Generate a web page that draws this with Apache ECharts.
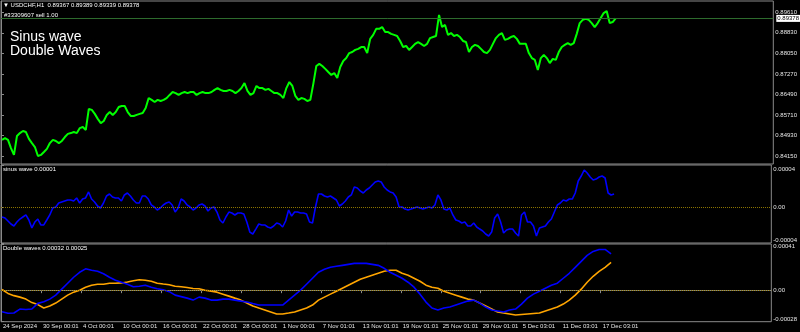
<!DOCTYPE html>
<html><head><meta charset="utf-8">
<script src="https://cdn.jsdelivr.net/npm/echarts@6/dist/echarts.min.js"></script>
<style>html,body{margin:0;padding:0;background:#000;}#c{width:800px;height:332px;}</style>
</head><body><div id="c"></div>
<script>
// ---- data ----
const timeLabels = ['24 Sep 2024','30 Sep 00:01','4 Oct 00:01','10 Oct 00:01','16 Oct 00:01','22 Oct 00:01','28 Oct 00:01','1 Nov 00:01','7 Nov 01:01','13 Nov 01:01','19 Nov 01:01','25 Nov 01:01','29 Nov 01:01','5 Dec 03:01','11 Dec 03:01','17 Dec 03:01'];
const priceTicks = [0.89610,0.88830,0.88050,0.87270,0.86490,0.85710,0.84930,0.84150];
const lastPrice = 0.89378;
const price = [
0.8476,0.8483,0.8476,0.8445,0.8419,0.8491,0.8502,0.8510,0.8506,0.8480,
0.8464,0.8449,0.8415,0.8419,0.8430,0.8442,0.8464,0.8476,0.8472,0.8464,
0.8472,0.8487,0.8499,0.8502,0.8506,0.8502,0.8521,0.8525,0.8514,0.8594,
0.8590,0.8575,0.8556,0.8540,0.8548,0.8571,0.8582,0.8571,0.8582,0.8601,
0.8605,0.8605,0.8582,0.8567,0.8567,0.8571,0.8575,0.8578,0.8597,0.8635,
0.8628,0.8620,0.8628,0.8624,0.8628,0.8635,0.8647,0.8658,0.8654,0.8647,
0.8654,0.8658,0.8654,0.8658,0.8658,0.8647,0.8654,0.8658,0.8654,0.8654,
0.8658,0.8666,0.8673,0.8666,0.8662,0.8662,0.8666,0.8662,0.8654,0.8662,
0.8673,0.8692,0.8662,0.8647,0.8654,0.8681,0.8673,0.8673,0.8666,0.8670,
0.8662,0.8654,0.8654,0.8647,0.8635,0.8673,0.8696,0.8681,0.8643,0.8628,
0.8635,0.8632,0.8624,0.8628,0.8689,0.8757,0.8765,0.8757,0.8746,0.8734,
0.8723,0.8730,0.8711,0.8753,0.8776,0.8787,0.8806,0.8810,0.8818,0.8822,
0.8829,0.8829,0.8806,0.8860,0.8875,0.8898,0.8898,0.8905,0.8886,0.8886,
0.8879,0.8875,0.8871,0.8852,0.8829,0.8833,0.8818,0.8829,0.8841,0.8848,
0.8841,0.8833,0.8841,0.8863,0.8867,0.8871,0.8951,0.8905,0.8913,0.8875,
0.8882,0.8871,0.8875,0.8867,0.8852,0.8848,0.8810,0.8829,0.8837,0.8833,
0.8822,0.8810,0.8806,0.8818,0.8841,0.8863,0.8875,0.8882,0.8856,0.8860,
0.8867,0.8871,0.8860,0.8841,0.8841,0.8841,0.8806,0.8787,0.8780,0.8742,
0.8787,0.8799,0.8787,0.8768,0.8784,0.8780,0.8810,0.8829,0.8837,0.8844,
0.8837,0.8844,0.8879,0.8920,0.8932,0.8936,0.8932,0.8920,0.8905,0.8920,
0.8939,0.8958,0.8966,0.8920,0.8924,0.8938];
// indicator values in units of 0.00001
const sinusE5 = [
-1.03,-1.13,-1.44,-1.75,-1.96,-1.55,-1.24,-1.03,-0.82,-1.34,
-2.16,-1.55,-1.24,-1.85,-1.85,-1.34,-0.82,-0.10,0,0.41,
0.52,0.62,0.72,0.72,0.62,0.93,0.41,0.82,0.93,1.55,
0.82,0.52,0.10,-0.10,0.41,1.13,1.34,1.03,0.93,0.93,
0.62,1.24,1.44,1.13,0.72,0.41,0.41,1.13,1.13,0.82,
0.21,0,-0.31,-0.10,0.21,0.41,0.52,0.21,-0.52,-0.10,
0.82,0.62,0.21,0,-0.31,-0.10,0.21,0.31,0.10,-0.41,
-0.10,0,-0.52,-1.34,-1.65,-1.03,-0.52,-0.62,-0.82,-0.62,
-0.62,-0.72,-1.55,-2.58,-2.78,-2.27,-1.75,-1.85,-1.85,-2.06,
-2.16,-1.96,-1.65,-1.75,-2.06,-1.44,-0.31,-0.93,-0.52,-0.52,
-0.62,-0.62,-0.72,-1.55,-1.65,0,1.34,1.34,1.13,1.03,
1.13,0.93,0.72,0.10,0.31,0.62,1.03,1.24,2.06,1.96,
1.65,1.44,1.75,1.96,2.27,2.58,2.68,2.58,2.06,1.75,
1.55,1.44,1.03,0,0,-0.21,-0.31,-0.21,-0.10,0,
-0.10,-0.21,-0.10,0,-0.10,0.21,1.24,0.72,-0.21,-0.31,
-0.10,-0.82,-1.34,-1.44,-1.65,-1.55,-1.96,-1.96,-1.65,-2.06,
-2.27,-2.47,-2.78,-2.99,-2.58,-1.13,-0.72,-1.55,-2.68,-2.37,
-2.27,-2.27,-2.68,-2.99,-0.82,-0.52,-1.55,-1.55,-1.96,-2.99,
-2.16,-2.06,-1.96,-1.55,-1.24,-0.52,0.21,0.41,0.72,0.62,
0.82,0.82,1.44,2.68,3.19,3.81,3.50,3.09,2.78,2.88,
3.09,3.19,2.99,1.44,1.24,1.34];
const dwBlueE5 = [
-19.14,-20.55,-20.29,-16.76,-17.20,-16.76,-11.73,-10.32,-7.94,-4.41,
0.88,6.17,11.47,15.88,18.96,17.64,16.76,14.55,11.47,8.82,
7.06,5.29,3.09,3.53,4.41,2.65,1.32,0.44,-1.32,-4.41,
-5.73,-7.06,-8.82,-6.17,-7.06,-8.82,-8.82,-7.94,-7.94,-8.82,
-9.70,-10.58,-11.91,-13.23,-13.23,-13.23,-13.23,-13.23,-8.82,-4.41,
0,5.29,10.58,15.88,18.52,20.29,21.17,22.05,22.93,23.81,
23.81,23.81,22.93,22.05,19.40,15.88,13.23,10.58,7.06,2.65,
-3.53,-10.58,-15.88,-17.64,-15.88,-14.99,-13.23,-11.47,-9.70,-8.82,
-11.47,-14.99,-17.64,-18.52,-19.40,-17.64,-16.76,-12.35,-7.06,-3.53,
-0.88,1.76,4.41,6.17,10.58,14.99,20.29,25.58,30.87,34.40,
36.16,36.16,32.2];
const dwOrangeE5 = [
0.62,-2.91,-4.85,-6.17,-7.94,-11.03,-12.79,-15.88,-14.11,-11.47,
-7.94,-4.41,-1.76,0,2.65,4.41,5.29,5.29,6.17,6.17,
6.44,7.32,8.38,9.26,8.82,7.94,6.17,5.47,4.85,3.53,
3.09,2.38,1.50,1.32,0,-0.88,-1.76,-3.53,-5.29,-7.06,
-8.82,-11.47,-14.11,-15.88,-17.64,-19.40,-21.17,-21.17,-20.29,-19.40,
-17.64,-15.88,-13.23,-8.82,-6.17,-3.53,-0.88,1.76,4.41,7.06,
9.70,11.47,13.23,14.99,16.76,17.64,17.64,14.99,13.23,10.58,
7.94,4.41,2.65,1.76,-0.88,-2.65,-4.41,-6.17,-7.94,-8.82,
-11.47,-14.11,-16.76,-19.40,-20.29,-21.17,-22.05,-21.61,-21.17,-20.73,
-20.29,-18.52,-16.76,-14.99,-12.35,-8.82,-4.41,0.88,7.06,12.35,
16.76,20.29,24.70];
const E5 = 1e-5;
// axis ranges
const priceMin = 0.83845, priceMax = 0.90039;
const sinMin = -3.708e-5, sinMax = 4.326e-5;
const dwMin = -0.00028, dwMax = 0.00041;

// ---- layout / build ----
const X_UNIT = 40.17;              // px per time-label step
const X0 = 1 / X_UNIT;
const PRICE_STEP = 3 / X_UNIT, WAVE_STEP = 6 / X_UNIT;
const X_MAX = 774 / X_UNIT;
const FONT = 'Liberation Sans';
const GRAY = '#8a8a8a', TXT = '#e6e6e6';

const priceData = price.map((v,i)=>[X0 + i*PRICE_STEP, v]);
const sinData = sinusE5.map((v,i)=>[X0 + i*PRICE_STEP, v*E5]);
const blueData = dwBlueE5.map((v,i)=>[X0 + i*WAVE_STEP, v*E5]);
const orangeData = dwOrangeE5.map((v,i)=>[X0 + i*WAVE_STEP, v*E5]);

const grids = [
  {left:1, right:25, top:1, height:163},
  {left:1, right:25, top:165, height:78},
  {left:1, right:25, top:244, height:77.7}
].map(g=>Object.assign(g,{show:true, borderColor:GRAY, borderWidth:1, backgroundColor:'#000'}));

const labelIdx = timeLabels.map((_,i)=>i);
function xAx(gi, show){
  return {type:'value', gridIndex:gi, min:0, max:X_MAX, interval:1,
    axisLine:{show:show, lineStyle:{color:GRAY}},
    axisTick:{show:show, length:3, lineStyle:{color:GRAY}, customValues: labelIdx},
    axisLabel:{show:show, customValues: labelIdx, formatter:v=>timeLabels[Math.round(v)]||'',
      align:'left', margin:2, padding:[0,0,0,2], fontSize:6, color:TXT, fontFamily:FONT},
    splitLine:{show:false}};
}
function subFmt(v){
  if (Math.abs(v) < 1e-12) return '{m|0.00}';
  return (v>0 ? '{t|' : '{b|') + v.toFixed(5) + '}';
}
function yAx(gi, min, max, vals, fmt, rich){
  return {type:'value', gridIndex:gi, position:'right', min:min, max:max, scale:true,
    axisLine:{show:true, lineStyle:{color:GRAY}},
    axisTick:{show:true, length:3, inside:false, lineStyle:{color:GRAY}, customValues: vals},
    axisLabel:{customValues: vals, formatter: fmt, margin:2, fontSize:6, color:TXT, fontFamily:FONT,
      showMinLabel:true, showMaxLabel:true, hideOverlap:false, rich: rich},
    splitLine:{show:false}};
}
const rs = (pt,pb)=>({t:{fontSize:6,color:TXT,fontFamily:FONT,padding:[pt,0,0,0]},
                      b:{fontSize:6,color:TXT,fontFamily:FONT,padding:[0,0,pb,0]},
                      m:{fontSize:6,color:TXT,fontFamily:FONT}});

const zeroLine = {silent:true, symbol:['none','none'], animation:false, precision:6, label:{show:false},
  lineStyle:{type:'dotted', color:'#8c7400', width:1}, data:[{yAxis:0}]};

const ttl = (text,left,top,size,lh)=>({text:text,left:left,top:top,padding:0,
  textStyle:{color:'#fff',fontSize:size,fontWeight:'normal',fontFamily:FONT,lineHeight:lh||size+2}});

const option = {
  backgroundColor:'#000',
  animation:false,
  title:[
    ttl('\u25BC USDCHF,H1  0.89367 0.89389 0.89339 0.89378',3,2,6,7),
    ttl('#33309607 sell 1.00',4,12,6,7),
    ttl('Sinus wave\nDouble Waves',10,30.5,14,14),
    ttl('sinus wave 0.00001',3,166,6,7),
    ttl('Double waves 0.00032 0.00025',3,245,6,7)
  ],
  grid: grids,
  xAxis:[xAx(0,false), xAx(1,false), xAx(2,true)],
  yAxis:[
    yAx(0, priceMin, priceMax, priceTicks, v=>v.toFixed(5)),
    yAx(1, sinMin, sinMax, [sinMax,0,sinMin], subFmt, rs(8,6)),
    yAx(2, dwMin, dwMax, [dwMax,0,dwMin], subFmt, rs(5,5))
  ],
  series:[
    {type:'line', xAxisIndex:0, yAxisIndex:0, data:priceData, showSymbol:false,
      lineStyle:{color:'#00ff00', width:2}, z:3,
      markLine:{silent:true, symbol:['none','none'], animation:false, precision:5,
        lineStyle:{type:'solid', color:'#2d6b2d', width:1},
        label:{show:true, position:'end', distance:3, formatter:()=>lastPrice.toFixed(5),
          color:'#000', backgroundColor:'#fff', padding:[1,1,0,1], fontSize:6, fontFamily:FONT},
        data:[{yAxis:lastPrice}]}},
    {type:'line', xAxisIndex:1, yAxisIndex:1, data:sinData, showSymbol:false,
      lineStyle:{color:'#0000ff', width:1.6}, markLine:zeroLine},
    {type:'line', xAxisIndex:2, yAxisIndex:2, data:blueData, showSymbol:false,
      lineStyle:{color:'#0000ff', width:1.6}, markLine:zeroLine, z:3},
    {type:'line', xAxisIndex:2, yAxisIndex:2, data:orangeData, showSymbol:false,
      lineStyle:{color:'#ffa500', width:1.6}, z:2}
  ]
};
const chart = echarts.init(document.getElementById('c'), null, {renderer:'canvas'});
chart.setOption(option);
</script></body></html>
